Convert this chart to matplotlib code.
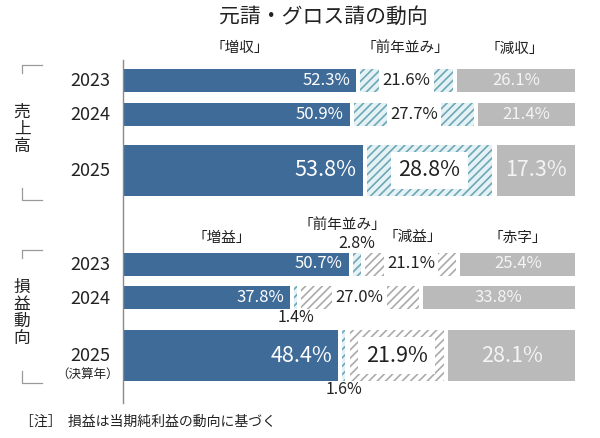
import matplotlib
matplotlib.use('Agg')
import matplotlib.pyplot as plt
from matplotlib.lines import Line2D

plt.rcParams['font.family'] = ['Noto Sans CJK JP', 'DejaVu Sans']
plt.rcParams['hatch.linewidth'] = 1.2

# ---------------- data ----------------
title = '元請・グロス請の動向'
years = ['2023', '2024', '2025']
profit_year_note = '（決算年）'

sales_group = '売上高'
sales_headers = ['「増収」', '「前年並み」', '「減収」']
sales_up = [52.3, 50.9, 53.8]
sales_flat = [21.6, 27.7, 28.8]
sales_down = [26.1, 21.4, 17.3]

profit_group = '損益動向'
profit_headers = ['「増益」', '「前年並み」', '「減益」', '「赤字」']
profit_up = [50.7, 37.8, 48.4]
profit_flat = [2.8, 1.4, 1.6]
profit_down = [21.1, 27.0, 21.9]
profit_loss = [25.4, 33.8, 28.1]

note = '［注］  損益は当期純利益の動向に基づく'

# ---------------- style / layout ----------------
W, H = 600, 438
BLUE = '#3f6b99'
TEAL_EDGE = '#6ea7b6'
TEAL_FACE = '#e4f2f5'
GRAY_HATCH = '#ababab'
GRAY = '#bababa'
TXT = '#222222'
GAP = 0.9

fig = plt.figure(figsize=(W / 100, H / 100), dpi=100)
X0, X1 = 124, 575
ax = fig.add_axes([X0 / W, 0, (X1 - X0) / W, 1])
ax.set_xlim(0, 100)
ax.set_ylim(H, 0)
ax.axis('off')


def T(x, y, s, **kw):
    kw.setdefault('color', TXT)
    kw.setdefault('ha', 'center')
    kw.setdefault('va', 'center')
    return fig.text(x / W, 1 - y / H, s, **kw)


# vertical axis line
fig.add_artist(Line2D([123 / W, 123 / W], [1 - 60 / H, 1 - 403 / H],
                      transform=fig.transFigure, color='#8a8a8a', lw=1.0))

big_fs, small_fs = 15.5, 12

sales_rows = [80.5, 114.5, 170.5]
profit_rows = [264.0, 297.5, 355.5]
heights = [23, 23, 51]


def draw_rows(rows, series, kinds):
    for i, yc in enumerate(rows):
        h = heights[i]
        fs = big_fs if h > 30 else small_fs
        left = 0.0
        n = len(series)
        for k, (vals, kind) in enumerate(zip(series, kinds)):
            v = vals[i]
            w = v - GAP if k < n - 1 else v
            if kind == 'blue':
                ax.barh(yc, w, left=left, height=h, color=BLUE, lw=0)
                ax.text(left + w - 1.3, yc, f'{v:.1f}%', color='white',
                        ha='right', va='center', fontsize=fs)
            elif kind == 'gray':
                ax.barh(yc, w, left=left, height=h, color=GRAY, lw=0)
                ax.text(left + w / 2, yc, f'{v:.1f}%', color='#f4f4f4',
                        ha='center', va='center', fontsize=fs)
            else:
                if kind == 'ghatch':
                    fc, ec = 'white', GRAY_HATCH
                else:
                    fc, ec = TEAL_FACE, TEAL_EDGE
                ax.barh(yc, w, left=left, height=h, facecolor=fc,
                        edgecolor=ec, hatch='////', lw=0)
                if kind != 'teal_small':
                    pad = 0.2 if h < 30 else 0.35
                    ax.text(left + w / 2, yc, f'{v:.1f}%', color=TXT,
                            ha='center', va='center', fontsize=fs,
                            bbox=dict(boxstyle=f'square,pad={pad}',
                                      fc='white', ec='none'))
                else:
                    ty = yc - h / 2 - 9 if i == 0 else yc + h / 2 + 9
                    ax.text(left + w / 2, ty, f'{v:.1f}%', color=TXT,
                            ha='center', va='center', fontsize=11.5)
            left += v


draw_rows(sales_rows, [sales_up, sales_flat, sales_down],
          ['blue', 'teal', 'gray'])
draw_rows(profit_rows, [profit_up, profit_flat, profit_down, profit_loss],
          ['blue', 'teal_small', 'ghatch', 'gray'])

# title
T(323, 17, title, fontsize=15)

# headers
for (x, y), s in zip([(240, 48), (405, 48), (515, 49)], sales_headers):
    T(x, y, s, fontsize=10.5)
for (x, y), s in zip([(222, 238), (342, 225), (413, 237), (518, 238)],
                     profit_headers):
    T(x, y, s, fontsize=10.5)

# year labels
for i, yc in enumerate(sales_rows):
    T(110, yc + 1, years[i], fontsize=13, ha='right')
for i, yc in enumerate(profit_rows):
    y = yc + 1 if i < 2 else 356
    T(110, y, years[i], fontsize=13, ha='right')
T(88, 375, profit_year_note, fontsize=9)

# group labels (vertical)
T(22, 129, '\n'.join(sales_group), fontsize=12, linespacing=1.0)
T(22, 313, '\n'.join(profit_group), fontsize=12, linespacing=0.98)


# group brackets
def bracket(y0, y1):
    c = '#9a9a9a'
    for xs, ys in [([42, 22, 22], [y0, y0, y0 + 8]),
                   ([22, 22, 42], [y1 - 12, y1, y1])]:
        fig.add_artist(Line2D([x / W for x in xs], [1 - y / H for y in ys],
                              transform=fig.transFigure, color=c, lw=0.9))


bracket(65, 200)
bracket(250, 383)

# note
T(20, 422, note, fontsize=10, ha='left')

fig.savefig('out.png', dpi=100)
